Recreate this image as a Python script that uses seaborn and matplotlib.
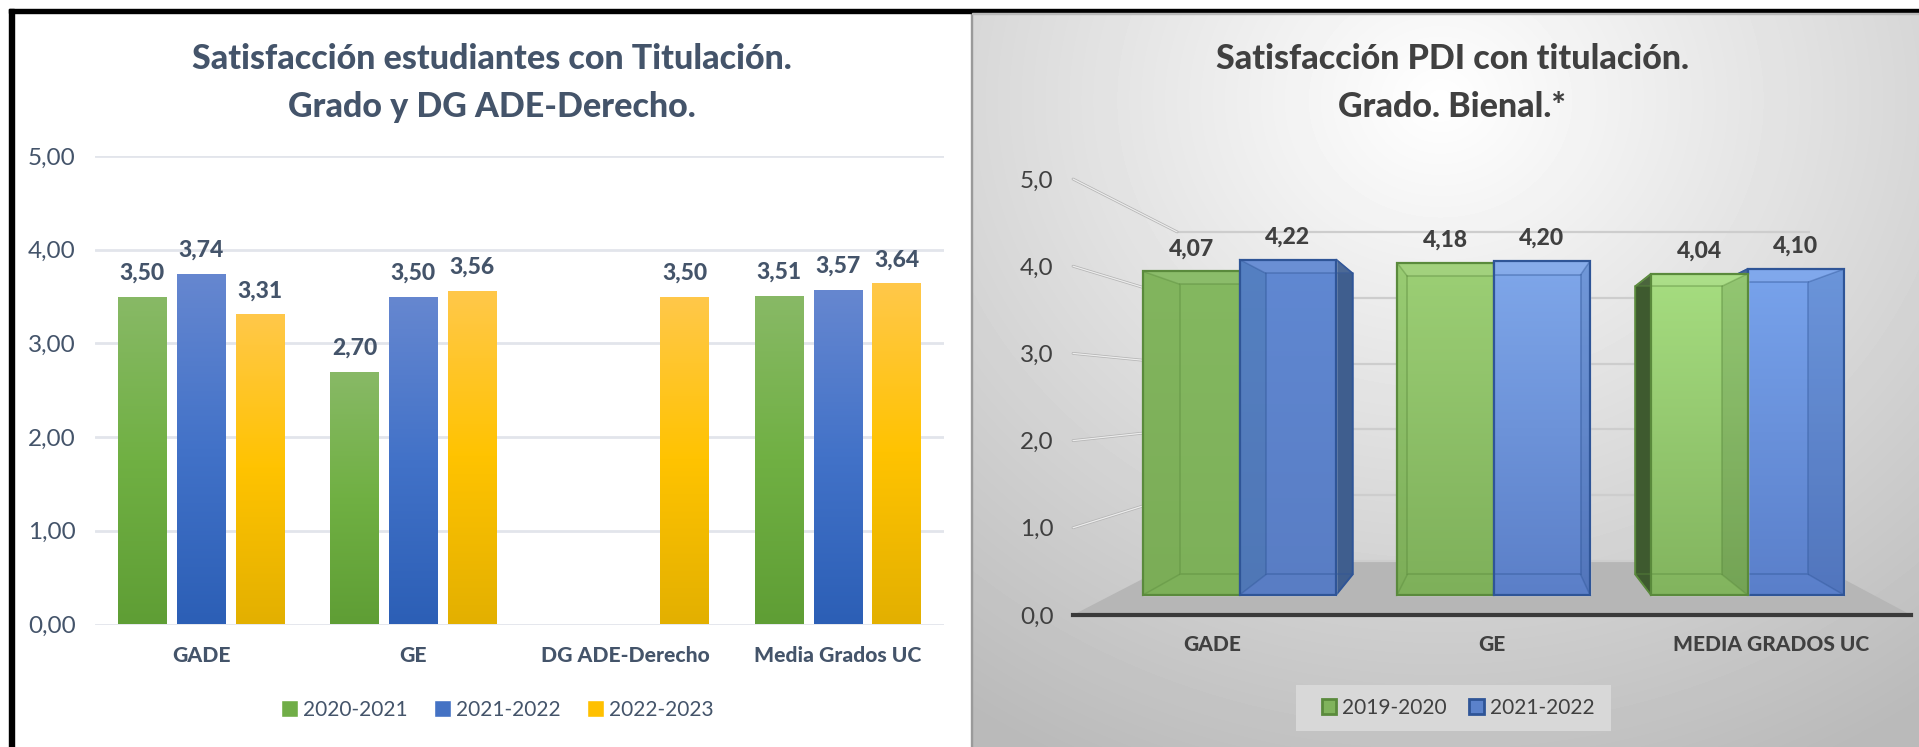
import numpy as np
import pandas as pd
import matplotlib
matplotlib.use("Agg")
import matplotlib.pyplot as plt
from matplotlib.colors import LinearSegmentedColormap
from matplotlib.patches import Polygon, Rectangle, Patch
import seaborn as sns

# ---------- data ----------
left_title = "Satisfacción estudiantes con Titulación.\nGrado y DG ADE-Derecho."
left_categories = ["GADE", "GE", "DG ADE-Derecho", "Media Grados UC"]
left_years = ["2020-2021", "2021-2022", "2022-2023"]
left_2020 = [3.50, 2.70, None, 3.51]
left_2021 = [3.74, 3.50, None, 3.57]
left_2022 = [3.31, 3.56, 3.50, 3.64]
left_ticks = [0, 1, 2, 3, 4, 5]

right_title = "Satisfacción PDI con titulación.\nGrado. Bienal.*"
right_categories = ["GADE", "GE", "MEDIA GRADOS UC"]
right_years = ["2019-2020", "2021-2022"]
right_2019 = [4.07, 4.18, 4.04]
right_2021 = [4.22, 4.20, 4.10]
right_ticks = [0, 1, 2, 3, 4, 5]

# ---------- styling ----------
sns.set_theme(style="white")
plt.rcParams["font.family"] = ["Lato", "DejaVu Sans"]
W, H = 1919, 747
SLATE = "#44546a"
DARK = "#404040"
LEFT_COLORS = ["#70ad47", "#4472c4", "#ffc000"]
LEFT_GRAD = [["#88b966", "#70b043", "#5f9e35"],
             ["#6687d0", "#4272c8", "#2c5fb6"],
             ["#ffc84a", "#ffc300", "#e3b000"]]
RIGHT_COLORS = ["#80b35c", "#5b82cb"]
RIGHT_EDGES = ["#5a8a3c", "#2f5597"]
RIGHT_DARK = ["#3e5a2f", "#3f5e8e"]
RIGHT_GRAD = [[["#84b860", "#7db059"], ["#9ccf75", "#7eb05a"], ["#a6dd80", "#82b45e"]],
              [["#6088d2", "#597dc4"], ["#7fa7ea", "#5b7fc8"], ["#78a3ec", "#5a7fca"]]]


def rect(x0, y0, x1, y1):
    """Axes rectangle from pixel coordinates (y measured from the top)."""
    return [x0 / W, 1 - y1 / H, (x1 - x0) / W, (y1 - y0) / H]


def comma(v, n):
    return f"{v:.{n}f}".replace(".", ",")


fig = plt.figure(figsize=(W / 100, H / 100), dpi=100, facecolor="white")

# ---------- page backdrop: panels and black rule ----------
bg = fig.add_axes([0, 0, 1, 1], zorder=-5)
bg.set_xlim(0, W)
bg.set_ylim(H, 0)
bg.axis("off")
yy, xx = np.mgrid[12:H, 972:W]
dist = np.hypot((xx - 1440) / 720, (yy - 100) / 640)
shade = np.clip(1.0 - 0.235 * np.clip(dist, 0, 1.15) ** 1.0, 0, 1)
bg.imshow(shade, extent=(972, W, H, 12), cmap="gray", vmin=0, vmax=1,
          aspect="auto", zorder=1)
bg.add_patch(Rectangle((970.5, 12), 1.5, H, color="#9a9a9a", zorder=2))
bg.add_patch(Rectangle((9, 9), W, 4, color="black", zorder=3))
bg.add_patch(Rectangle((9, 9), 5, H, color="black", zorder=3))
bg.add_patch(Rectangle((972, 12.5), W, 1.5, color="#b9b9b9", zorder=3))
bg.add_patch(Rectangle((1296, 685), 315, 46, color="#dcdcdc", alpha=0.85, lw=0, zorder=3))
bg.set_xlim(0, W)
bg.set_ylim(H, 0)

# ---------- left chart ----------
df_left = pd.DataFrame({
    "cat": left_categories * 3,
    "year": np.repeat(left_years, 4),
    "value": left_2020 + left_2021 + left_2022,
}).astype({"value": float})

ax = fig.add_axes(rect(95, 156, 944, 624.5))
ax.patch.set_alpha(0)
sns.barplot(data=df_left, x="cat", y="value", hue="year", order=left_categories,
            hue_order=left_years, palette=LEFT_COLORS, width=0.832, gap=0.175,
            saturation=1, errorbar=None, ax=ax)
ax.set_ylim(0, 5)
ax.set_xlim(-0.5, 3.5)
ax.set_yticks(left_ticks, [comma(t, 2) for t in left_ticks])
ax.set_xlabel("")
ax.set_ylabel("")
ax.grid(axis="y", color="#e2e5eb", lw=2)
ax.set_axisbelow(True)
sns.despine(ax=ax, left=True, top=True, right=True, bottom=True)
ax.tick_params(axis="y", length=0, pad=14, labelsize=17.5, labelcolor=SLATE)
ax.tick_params(axis="x", length=0, pad=15.5, labelsize=15.2, labelcolor=SLATE)
for lab in ax.get_xticklabels():
    lab.set_fontweight(900)

for cont, stops in zip(ax.containers, LEFT_GRAD):
    cmap = LinearSegmentedColormap.from_list("g", stops)
    for bar in cont:
        if np.isnan(bar.get_height()) or bar.get_height() == 0:
            continue
        x0, w, h = bar.get_x(), bar.get_width(), bar.get_height()
        im = ax.imshow(np.linspace(0, 1, 128)[:, None], extent=(x0, x0 + w, 0, h),
                       origin="upper", cmap=cmap, aspect="auto", zorder=2.5)
        im.set_clip_path(bar)
        bar.set_alpha(0)
    ax.bar_label(cont, labels=["" if np.isnan(b.get_height()) or b.get_height() == 0
                               else comma(b.get_height(), 2) for b in cont],
                 padding=9.5, fontsize=16.5, fontweight=900, color=SLATE)
ax.set_xlim(-0.5, 3.5)
ax.set_ylim(0, 5)
sns.move_legend(ax, "center", bbox_to_anchor=(497 / W, 1 - 710 / H),
                bbox_transform=fig.transFigure, ncol=3, frameon=False, title=None,
                fontsize=15, labelcolor=SLATE, handlelength=0.85, handleheight=0.85,
                handletextpad=0.22, columnspacing=1.25)
fig.text(492 / W, 1 - 83 / H, left_title, ha="center", va="center", fontsize=24.5,
         fontweight=900, color=SLATE, linespacing=1.65)

# ---------- right chart: wall, floor and front-plane axis ----------
VP_PX = (1498.0, 395.0)      # vanishing point of the perspective
K_WALL = 0.755               # depth ratio of the back wall
K_BAR = 0.897                # depth ratio of the back of each bar

wall = fig.add_axes(rect(1073, 179, 1911, 615), zorder=1)
wall.patch.set_alpha(0)
wall.set_ylim(0, 5)
wall.set_xlim(-0.5, 2.5)
wall.set_xticks(range(3), right_categories)
wall.set_yticks(right_ticks, [comma(t, 1) for t in right_ticks])
wall.tick_params(axis="y", length=0, pad=14, labelsize=17.5, labelcolor=DARK)
wall.tick_params(axis="x", length=0, pad=14.5, labelsize=15, labelcolor=DARK)
for lab in wall.get_xticklabels():
    lab.set_fontweight(900)
for name in ("left", "right", "top"):
    wall.spines[name].set_visible(False)
wall.spines["bottom"].set_color("#3a3a3a")
wall.spines["bottom"].set_linewidth(3)
wall.spines["bottom"].set_zorder(6)

vp_w = wall.transData.inverted().transform((VP_PX[0], H - VP_PX[1]))


def deep(x, y, k, vp):
    return vp[0] + k * (x - vp[0]), vp[1] + k * (y - vp[1])


x_l, x_r = wall.get_xlim()
floor = [(x_l, 0), deep(x_l, 0, K_WALL, vp_w), deep(x_r, 0, K_WALL, vp_w), (x_r, 0)]
wall.add_patch(Polygon(floor, closed=True, facecolor="#b6b6b6", edgecolor="none", zorder=1))
for t in right_ticks:
    xb0, yb = deep(x_l, t, K_WALL, vp_w)
    xb1, _ = deep(x_r, t, K_WALL, vp_w)
    wall.plot([xb0, xb1], [yb, yb], color="#cdcdcd", lw=1.6, zorder=2, clip_on=False,
              solid_capstyle="butt")
    if t > 0:
        wall.plot([x_l, xb0], [t, yb], color="#b4b4b4", lw=2.0, zorder=2, clip_on=False)
        wall.plot([x_l, xb0], [t, yb], color="#ececec", lw=0.9, zorder=2.1, clip_on=False)

# ---------- right chart: bars (front faces by seaborn, depth from the same values) ----------
df_right = pd.DataFrame({
    "cat": right_categories * 2,
    "year": np.repeat(right_years, 3),
    "value": right_2019 + right_2021,
})
bx = fig.add_axes(rect(1112.5, 170, 1874.5, 620), zorder=2)
bx.patch.set_alpha(0)
sns.barplot(data=df_right, x="cat", y="value", hue="year", order=right_categories,
            hue_order=right_years, palette=RIGHT_COLORS, width=0.76, gap=0,
            saturation=1, errorbar=None, legend=False, ax=bx)
bx.set_xlim(-0.5, 2.5)
bx.set_ylim(-25 / 79.5, 425 / 79.5)
bx.axis("off")
vp_b = bx.transData.inverted().transform((VP_PX[0], H - VP_PX[1]))

bars = []
for s, cont in enumerate(bx.containers):
    for c, bar in enumerate(cont):
        bars.append((s, c, bar))
# the bars furthest from the centre of the view are drawn first
bars.sort(key=lambda it: -abs(it[2].get_x() + it[2].get_width() / 2 - vp_b[0]))

for order, (s, c, bar) in enumerate(bars):
    z = 3 + order
    L, R, T = bar.get_x(), bar.get_x() + bar.get_width(), bar.get_height()
    BL = deep(L, 0, K_BAR, vp_b)
    BR = deep(R, 0, K_BAR, vp_b)
    TL = deep(L, T, K_BAR, vp_b)
    TR = deep(R, T, K_BAR, vp_b)
    edge, dark = RIGHT_EDGES[s], RIGHT_DARK[s]

    # side faces that stick out past the front face
    if TR[0] > R:
        bx.add_patch(Polygon([(R, 0), BR, TR, (R, T)], closed=True, facecolor=dark,
                             edgecolor=edge, lw=1.3, zorder=z))
    if TL[0] < L:
        bx.add_patch(Polygon([(L, 0), BL, TL, (L, T)], closed=True, facecolor=dark,
                             edgecolor=edge, lw=1.3, zorder=z))

    # front face with its vertical gradient
    cmap = LinearSegmentedColormap.from_list("g", RIGHT_GRAD[s][c])
    bar.set_zorder(z + 0.1)
    im = bx.imshow(np.linspace(0, 1, 128)[:, None], extent=(L, R, 0, T), origin="upper",
                   cmap=cmap, aspect="auto", zorder=z + 0.2)
    im.set_clip_path(bar)

    # inner faces seen through the front
    if TL[0] > L:
        bx.add_patch(Polygon([(L, 0), BL, TL, (L, T)], closed=True,
                             facecolor="#1f3f20" if s == 0 else "#1f5a70",
                             alpha=0.02 if s == 0 else 0.16, edgecolor="none", zorder=z + 0.3))
    if TR[0] < R:
        bx.add_patch(Polygon([(R, 0), BR, TR, (R, T)], closed=True,
                             facecolor="#1f3f20" if s == 0 else "#1f3f70",
                             alpha=0.14, edgecolor="none", zorder=z + 0.3))
    bx.add_patch(Polygon([(L, T), TL, TR, (R, T)], closed=True, facecolor="white",
                         alpha=0.07, edgecolor="none", zorder=z + 0.3))
    bx.add_patch(Polygon([TL, TR, BR, BL], closed=True, facecolor="none",
                         edgecolor=edge, alpha=0.4, lw=1.3, zorder=z + 0.4))
    for (a, b) in (((L, T), TL), ((R, T), TR), ((L, 0), BL), ((R, 0), BR)):
        bx.plot([a[0], b[0]], [a[1], b[1]], color=edge, alpha=0.4, lw=1.1, zorder=z + 0.4)
    bx.add_patch(Rectangle((L, 0), R - L, T, facecolor="none", edgecolor=edge, lw=1.6,
                           zorder=z + 0.5))

    # value label above the bar
    bx.annotate(comma(T, 2), ((L + R) / 2, T), xytext=(0, 12),
                textcoords="offset pixels", ha="center", va="bottom", fontsize=16.5,
                fontweight=900, color=DARK, annotation_clip=False, zorder=30)

bx.set_xlim(-0.5, 2.5)
bx.set_ylim(-25 / 79.5, 425 / 79.5)
bx.axis("off")

handles = [Patch(facecolor=RIGHT_COLORS[i], edgecolor=RIGHT_EDGES[i], lw=2) for i in range(2)]
fig.legend(handles, right_years, loc="center", bbox_to_anchor=(1458 / W, 1 - 707.5 / H),
           ncol=2, fontsize=15, labelcolor=DARK, frameon=False, handlelength=0.7,
           handleheight=0.7, handletextpad=0.28, columnspacing=1.1, borderaxespad=0)
fig.text(1452 / W, 1 - 83 / H, right_title, ha="center", va="center", fontsize=24.5,
         fontweight=900, color=DARK, linespacing=1.6)

fig.savefig("out.png", dpi=100)
